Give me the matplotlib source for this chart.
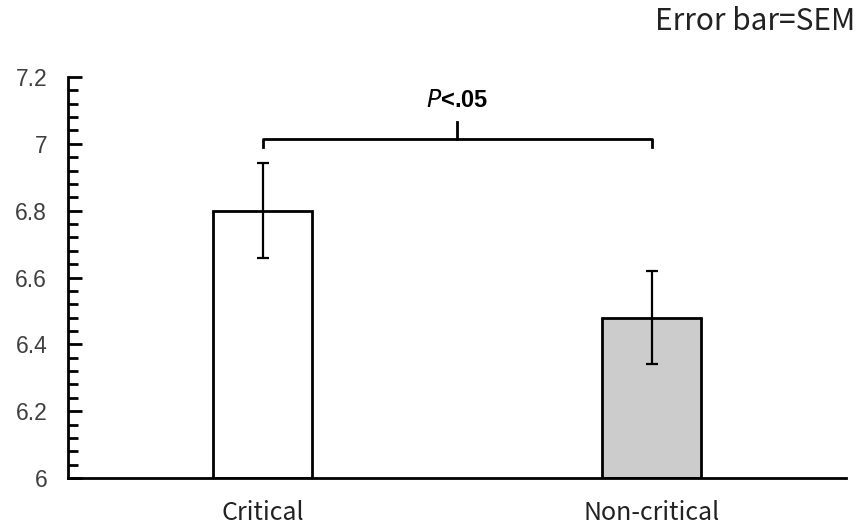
import matplotlib
matplotlib.use("Agg")
import matplotlib.pyplot as plt
from matplotlib.ticker import MultipleLocator

categories = ["Critical", "Non-critical"]
means = [6.80, 6.48]
sems = [0.143, 0.14]
colors = ["white", "#cccccc"]
sig_label = "P<.05"
note = "Error bar=SEM"

fig = plt.figure(figsize=(8.6, 5.27), dpi=100)
ax = fig.add_axes([68/860, 49/527, 778/860, 401/527])

x = list(range(len(categories)))
ax.bar(x, [m - 6 for m in means], bottom=6, width=0.257, color=colors,
       edgecolor="black", linewidth=2.0, zorder=2)
ax.errorbar(x, means, yerr=sems, fmt="none", ecolor="black", elinewidth=1.6,
            capsize=4, capthick=1.6, zorder=3)

ax.set_ylim(6, 7.2)
ax.set_xlim(-0.5, 1.5)
ax.yaxis.set_minor_locator(MultipleLocator(0.04))
ax.set_yticks([6, 6.2, 6.4, 6.6, 6.8, 7, 7.2])
ax.set_yticklabels(["6", "6.2", "6.4", "6.6", "6.8", "7", "7.2"],
                   fontfamily="Liberation Sans", fontsize=16.5, color="#404040")
ax.tick_params(axis="y", which="major", direction="in", length=10, width=2, pad=15)
ax.tick_params(axis="y", which="minor", direction="in", length=7, width=2)
ax.set_xticks(x)
ax.set_xticklabels(categories, fontfamily=["Noto Sans CJK SC", "DejaVu Sans"],
                   fontsize=18, color="#222222")
ax.tick_params(axis="x", length=0, pad=16)

for s in ["top", "right"]:
    ax.spines[s].set_visible(False)
for s in ["left", "bottom"]:
    ax.spines[s].set_linewidth(2)

# significance bracket
yb = 7.015
ax.plot([x[0], x[0], x[1], x[1]], [yb - 0.025, yb, yb, yb - 0.025],
        color="black", lw=2, solid_joinstyle="round", clip_on=False)
xm = (x[0] + x[1]) / 2
ax.plot([xm, xm], [yb, yb + 0.05], color="black", lw=2, clip_on=False)
ax.text(xm, 7.13, r"$\mathit{P}$<.05", ha="center", va="center",
        fontsize=17, fontweight="bold", fontfamily="Liberation Sans")

fig.text(855/860, 1 - 22/527, note, ha="right", va="center",
         fontsize=21.5, fontfamily=["Noto Sans CJK SC", "DejaVu Sans"], color="#222222")

fig.savefig("out.png", dpi=100)
